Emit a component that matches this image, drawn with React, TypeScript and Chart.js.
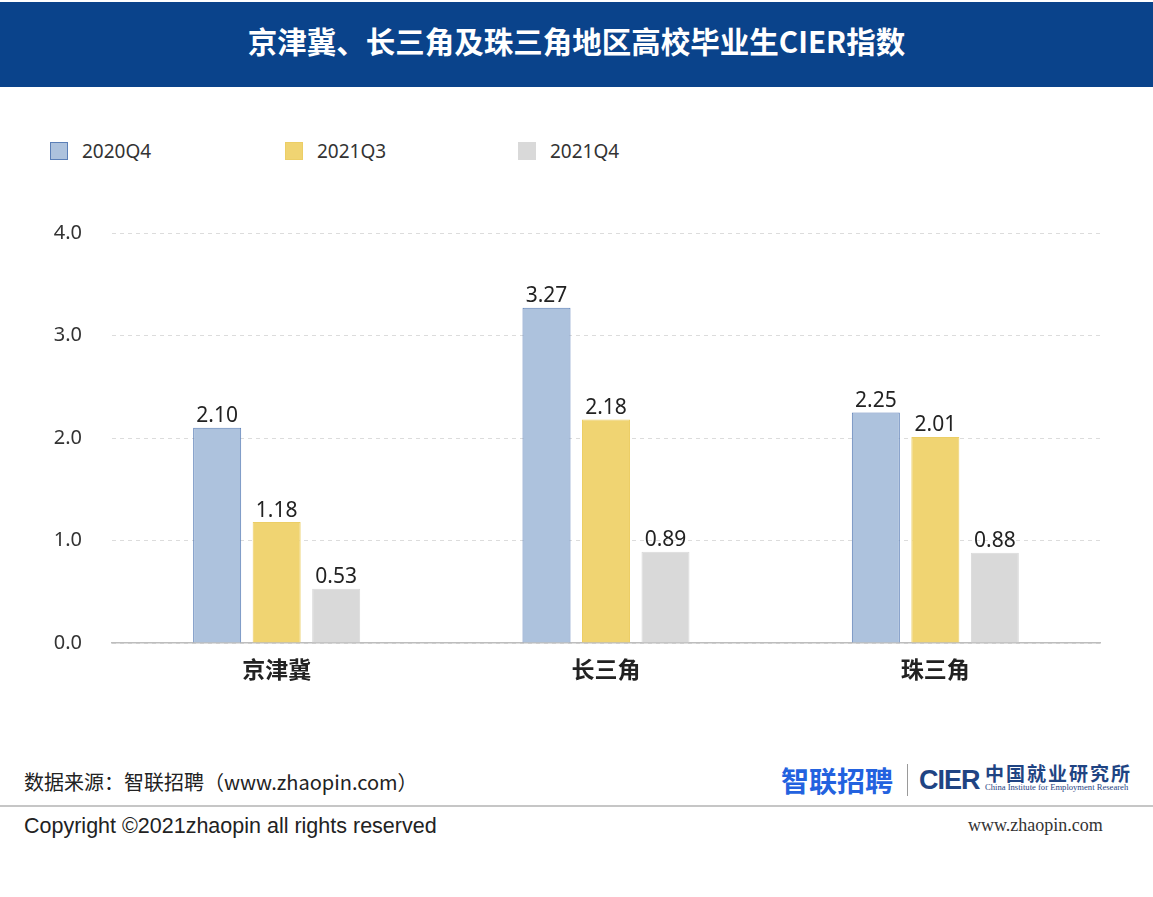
import React, { useEffect, useRef } from "react";
import { Chart, registerables } from "chart.js";

Chart.register(...registerables);

const title = "京津冀、长三角及珠三角地区高校毕业生CIER指数";
const categories = ["京津冀", "长三角", "珠三角"];
const seriesNames = ["2020Q4", "2021Q3", "2021Q4"];
const series2020Q4 = [2.1, 3.27, 2.25];
const series2021Q3 = [1.18, 2.18, 2.01];
const series2021Q4 = [0.53, 0.89, 0.88];
const yTicks = [0, 1, 2, 3, 4];

const fills = ["#adc2dd", "#f0d472", "#d9d9d9"];
const borders = ["#5b7fb7", "#ecce66", "#d9d9d9"];

const valueLabels = {
  id: "valueLabels",
  afterDatasetsDraw(chart: any) {
    const ctx = chart.ctx;
    ctx.save();
    ctx.font = "21px 'Noto Sans', sans-serif";
    ctx.fillStyle = "#222";
    ctx.textAlign = "center";
    ctx.textBaseline = "bottom";
    chart.data.datasets.forEach((ds: any, di: number) => {
      const meta = chart.getDatasetMeta(di);
      meta.data.forEach((el: any, i: number) => {
        ctx.fillText(Number(ds.data[i]).toFixed(2), el.x, el.y - 1);
      });
    });
    ctx.restore();
  },
};

const CANVAS_TOP = 191;
const CANVAS_H = 509;

function BarChart() {
  const ref = useRef<HTMLCanvasElement | null>(null);
  useEffect(() => {
    if (!ref.current) return;
    const chart = new Chart(ref.current, {
      type: "bar",
      data: {
        labels: categories,
        datasets: [series2020Q4, series2021Q3, series2021Q4].map((d, i) => ({
          label: seriesNames[i],
          data: d,
          backgroundColor: fills[i],
          borderColor: borders[i],
          borderWidth: 1,
          categoryPercentage: 0.542,
          barPercentage: 0.807,
        })),
      },
      options: {
        responsive: false,
        maintainAspectRatio: false,
        animation: false,
        layout: { padding: { top: 24, right: 53, left: 0, bottom: 0 } },
        plugins: { legend: { display: false }, tooltip: { enabled: false } },
        scales: {
          x: {
            grid: { display: false, drawTicks: false },
            border: { display: true, color: "#bdbdbd", width: 1.5 },
            ticks: {
              padding: 12,
              color: "#222",
              font: { family: "'Noto Sans CJK SC', sans-serif", size: 23, weight: "bold" },
            },
            afterFit: (axis: any) => {
              axis.height = 57;
            },
          },
          y: {
            min: 0,
            max: 4,
            afterBuildTicks: (axis: any) => {
              axis.ticks = yTicks.map((v) => ({ value: v }));
            },
            grid: { color: "#dcdcdc", lineWidth: 1, drawTicks: false },
            border: { display: false, dash: [4, 4] },
            ticks: {
              padding: 30,
              color: "#333",
              font: { family: "'Noto Sans', sans-serif", size: 20 },
              callback: (v: any) => Number(v).toFixed(1),
            },
            afterFit: (axis: any) => {
              axis.width = 112;
            },
          },
        },
      },
      plugins: [valueLabels],
    });
    return () => chart.destroy();
  }, []);
  return <canvas ref={ref} width={1153} height={CANVAS_H} style={{ display: "block" }} />;
}

export default function App() {
  const abs = (s: React.CSSProperties): React.CSSProperties => ({ position: "absolute", ...s });
  const legendX = [50, 285, 518];
  return (
    <div style={abs({ left: 0, top: 0, width: 1153, height: 897, background: "#fff", overflow: "hidden", fontFamily: "'Noto Sans', sans-serif" })}>
      <div style={abs({ left: 0, top: 2, width: 1153, height: 85, background: "#0a438b" })} />
      <div style={abs({ left: 0, top: 19, width: 1153, textAlign: "center", color: "#fff", fontFamily: "'Noto Sans CJK SC', sans-serif", fontWeight: 700, fontSize: 29.5, lineHeight: "42px" })}>
        {title}
      </div>
      {seriesNames.map((n, i) => (
        <React.Fragment key={n}>
          <div style={abs({ left: legendX[i], top: 142, width: 18, height: 18, background: fills[i], boxSizing: "border-box", border: `1px solid ${borders[i]}` })} />
          <div style={abs({ left: legendX[i] + 32, top: 138, fontSize: 19, lineHeight: "26px", color: "#333" })}>{n}</div>
        </React.Fragment>
      ))}
      <div style={abs({ left: 0, top: CANVAS_TOP, width: 1153, height: CANVAS_H })}>
        <BarChart />
      </div>
      <div style={abs({ left: 24, top: 767, fontFamily: "'Noto Sans CJK SC', sans-serif", fontSize: 20, lineHeight: "30px", color: "#222" })}>
        数据来源：智联招聘（www.zhaopin.com）
      </div>
      <div style={abs({ left: 0, top: 805, width: 1153, height: 2, background: "#c6c6c6" })} />
      <div style={abs({ left: 24, top: 811, fontFamily: "'Liberation Sans', Arial, sans-serif", fontSize: 21.5, lineHeight: "30px", color: "#222" })}>
        Copyright ©2021zhaopin all rights reserved
      </div>
      <div style={abs({ left: 781, top: 762, fontFamily: "'Noto Sans CJK SC', sans-serif", fontWeight: 700, fontSize: 28, lineHeight: "36px", color: "#2362df" })}>
        智联招聘
      </div>
      <div style={abs({ left: 907, top: 764, width: 1, height: 32, background: "#9a9a9a" })} />
      <div style={abs({ left: 919, top: 763, fontFamily: "'Liberation Sans', Arial, sans-serif", fontWeight: 700, fontSize: 27, lineHeight: "34px", color: "#1f4483", letterSpacing: -1 })}>
        CIER
      </div>
      <div style={abs({ left: 985, top: 762, fontFamily: "'Noto Sans CJK SC', serif", fontWeight: 700, fontSize: 19, lineHeight: "22px", color: "#1f4483", letterSpacing: 2 })}>
        中国就业研究所
      </div>
      <div style={abs({ left: 985, top: 782, fontFamily: "'Liberation Serif', serif", fontSize: 8.6, lineHeight: "10px", color: "#1f4483", whiteSpace: "nowrap" })}>
        China Institute for Employment Researeh
      </div>
      <div style={abs({ left: 968, top: 813, fontFamily: "'Liberation Serif', serif", fontSize: 18, lineHeight: "24px", color: "#333" })}>
        www.zhaopin.com
      </div>
    </div>
  );
}
